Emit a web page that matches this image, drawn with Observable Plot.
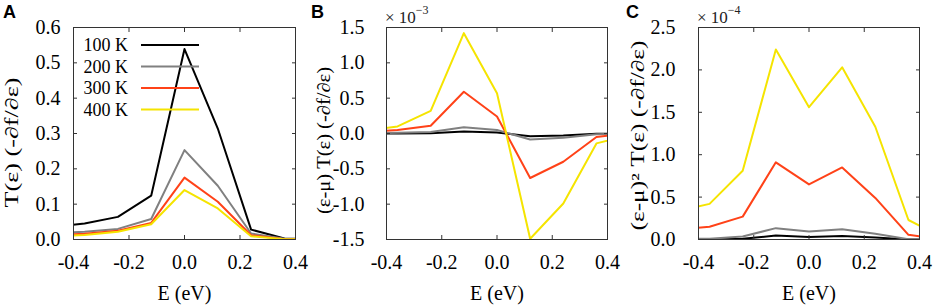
<!DOCTYPE html>
<html><head><meta charset="utf-8">
<script src="https://cdn.jsdelivr.net/npm/d3@7"></script>
<script src="https://cdn.jsdelivr.net/npm/@observablehq/plot@0.6"></script>
<style>
body{margin:0;background:#fff;}
#chart{position:relative;width:934px;height:307px;overflow:hidden;background:#fff;font-family:"Liberation Serif","Times New Roman",serif;}
.panel{position:absolute;top:0;}
.letter{position:absolute;top:3px;font:bold 18px/1 "Liberation Sans",Arial,sans-serif;color:#000;}
.mult{position:absolute;top:6px;font-size:17px;line-height:1;color:#222;white-space:nowrap;font-family:"Liberation Serif",serif;}
.mult sup{font-size:12px;position:relative;top:-2px;}
.legend{position:absolute;left:0;top:0;}
</style></head><body><div id="chart"></div>
<script>
// ---- data ----
const energies = [-0.48, -0.36, -0.24, -0.12, 0, 0.12, 0.24, 0.36, 0.48];
const temperatures = ["100 K", "200 K", "300 K", "400 K"];
const colors = ["#000000", "#808080", "#ff4218", "#f5e400"];

// Panel A: T(e)(-df/de)
const a100 = [0.036, 0.045, 0.064, 0.124, 0.539, 0.314, 0.028, 0.003, 0.000];
const a200 = [0.018, 0.022, 0.030, 0.058, 0.253, 0.152, 0.017, 0.002, 0.000];
const a300 = [0.012, 0.016, 0.025, 0.047, 0.175, 0.107, 0.012, 0.001, 0.000];
const a400 = [0.009, 0.013, 0.022, 0.043, 0.140, 0.088, 0.009, 0.001, 0.000];

// Panel B: (e-mu)T(e)(-df/de), units of 1e-3
const b100 = [0.000, 0.000, 0.005, 0.030, 0.015, -0.040, -0.030, -0.005, 0.000];
const b200 = [0.005, 0.010, 0.020, 0.090, 0.050, -0.085, -0.060, -0.010, -0.005];
const b300 = [0.020, 0.050, 0.110, 0.590, 0.240, -0.630, -0.400, -0.050, 0.010];
const b400 = [0.040, 0.100, 0.320, 1.420, 0.570, -1.490, -0.990, -0.140, -0.020];

// Panel C: (e-mu)^2 T(e)(-df/de), units of 1e-4
const c100 = [0.000, 0.000, 0.008, 0.047, 0.030, 0.040, 0.024, 0.000, 0.000];
const c200 = [0.005, 0.010, 0.035, 0.134, 0.095, 0.120, 0.067, 0.004, 0.000];
const c300 = [0.120, 0.150, 0.270, 0.910, 0.650, 0.850, 0.490, 0.055, 0.000];
const c400 = [0.330, 0.420, 0.810, 2.240, 1.560, 2.030, 1.330, 0.230, 0.035];

const xTicks = [-0.4, -0.2, 0.0, 0.2, 0.4];
const aTicks = [0.0, 0.1, 0.2, 0.3, 0.4, 0.5, 0.6];
const bTicks = [-1.5, -1.0, -0.5, 0.0, 0.5, 1.0, 1.5];
const cTicks = [0.0, 0.5, 1.0, 1.5, 2.0, 2.5];

const xLabel = "E (eV)";
const yLabels = ["T(ε) (-∂f/∂ε)", "(ε-μ) T(ε) (-∂f/∂ε)", "(ε-μ)² T(ε) (-∂f/∂ε)"];
const panelLetters = ["A", "B", "C"];
const multipliers = [null, "-3", "-4"];

// ---- build ----
const FF = '"Liberation Serif","Times New Roman",serif';
const fmt = d => (Math.abs(d) < 1e-9 ? 0 : d).toFixed(1);
function rowsOf(series) {
  const out = [];
  series.forEach((vals, k) => vals.forEach((v, i) => out.push({T: temperatures[k], E: energies[i], v})));
  return out;
}

const panels = [
  {left: 0,   mL: 73, mR: 16, domain: [0, 0.6],    ticks: aTicks, gap: 13, series: [a100, a200, a300, a400], ldx: -61, ldy: 9, llen: 130},
  {left: 311, mL: 75, mR: 15, domain: [-1.5, 1.5], ticks: bTicks, gap: 22, series: [b100, b200, b300, b400], ldx: -62, ldy: 7, llen: 147},
  {left: 623, mL: 75, mR: 15, domain: [0, 2.5],    ticks: cTicks, gap: 23, series: [c100, c200, c300, c400], ldx: -60, ldy: 2, llen: 190}
];

const chart = document.getElementById("chart");
const TS = 4;

panels.forEach((p, idx) => {
  const rows = rowsOf(p.series);
  const svg = Plot.plot({
    width: 311, height: 307,
    marginLeft: p.mL, marginRight: p.mR, marginTop: 27, marginBottom: 68,
    style: {fontFamily: FF, fontSize: "20px", background: "transparent", color: "#222", overflow: "visible"},
    x: {domain: [-0.4, 0.4]},
    y: {domain: p.domain},
    color: {domain: temperatures, range: colors},
    marks: [
      Plot.line(rows, {x: "E", y: "v", z: "T", stroke: "T", strokeWidth: 2, clip: true}),
      Plot.frame({stroke: "#333", strokeWidth: 1}),
      Plot.axisX({anchor: "bottom", ticks: xTicks, tickSize: -TS, tickPadding: 15 + TS, tickFormat: fmt, label: null, stroke: "#333", fill: "#000", fontFamily: FF, fontSize: 20}),
      Plot.axisX({anchor: "top", ticks: xTicks, tickSize: -TS, tickFormat: () => "", label: null, stroke: "#333"}),
      Plot.axisY({anchor: "left", ticks: p.ticks, tickSize: -TS, tickPadding: p.gap + TS, tickFormat: fmt, label: null, stroke: "#333", fill: "#000", fontFamily: FF, fontSize: 20}),
      Plot.axisY({anchor: "right", ticks: p.ticks, tickSize: -TS, tickFormat: () => "", label: null, stroke: "#333"}),
      Plot.text([yLabels[idx]], {frameAnchor: "left", text: d => d, textAnchor: "middle", rotate: -90, dx: p.ldx, dy: p.ldy, fontSize: 18, fontFamily: FF, fill: "#000"}),
      Plot.text([xLabel], {frameAnchor: "bottom", text: d => d, textAnchor: "middle", dy: 60, fontSize: 20, fontFamily: FF, fill: "#000"})
    ]
  });
  // fit the rotated y label to the reference length
  d3.select(svg).selectAll("text")
    .filter(function() { return this.textContent === yLabels[idx]; })
    .attr("textLength", p.llen)
    .attr("lengthAdjust", "spacingAndGlyphs");
  const wrap = document.createElement("div");
  wrap.className = "panel";
  wrap.style.left = p.left + "px";
  wrap.appendChild(svg);
  chart.appendChild(wrap);
});

// panel letters
const letterX = [3, 311, 626];
panelLetters.forEach((t, i) => {
  const d = document.createElement("div");
  d.className = "letter";
  d.style.left = letterX[i] + "px";
  d.textContent = t;
  chart.appendChild(d);
});
// multipliers
const multX = [null, 385, 697];
multipliers.forEach((m, i) => {
  if (!m) return;
  const d = document.createElement("div");
  d.className = "mult";
  d.style.left = multX[i] + "px";
  d.innerHTML = "× 10<sup>" + m.replace("-", "−") + "</sup>";
  chart.appendChild(d);
});

// legend (panel A)
const ns = "http://www.w3.org/2000/svg";
const leg = document.createElementNS(ns, "svg");
leg.setAttribute("width", 220); leg.setAttribute("height", 130);
leg.setAttribute("class", "legend");
temperatures.forEach((t, i) => {
  const y = 45 + i * 21.5;
  const tx = document.createElementNS(ns, "text");
  tx.setAttribute("x", 128); tx.setAttribute("y", y + 6);
  tx.setAttribute("text-anchor", "end");
  tx.setAttribute("font-family", FF);
  tx.setAttribute("font-size", 18);
  tx.textContent = t;
  leg.appendChild(tx);
  const ln = document.createElementNS(ns, "line");
  ln.setAttribute("x1", 141); ln.setAttribute("x2", 199);
  ln.setAttribute("y1", y); ln.setAttribute("y2", y);
  ln.setAttribute("stroke", colors[i]); ln.setAttribute("stroke-width", 2);
  leg.appendChild(ln);
});
chart.appendChild(leg);
</script></body></html>
